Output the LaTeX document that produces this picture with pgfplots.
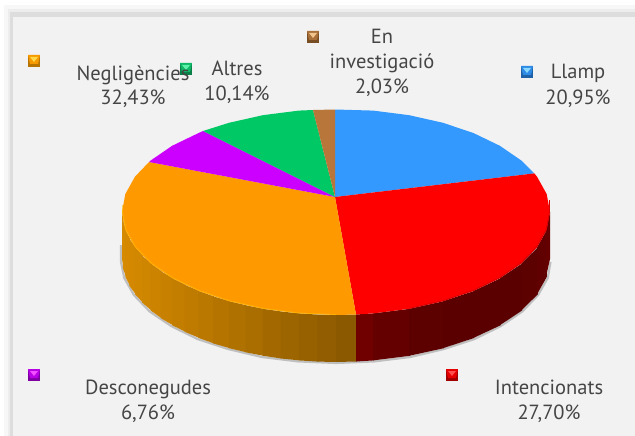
\documentclass[border=0pt]{standalone}
\usepackage{fontspec}
\setmainfont{PT Sans}
\usepackage{pgfplots}
\pgfplotsset{compat=1.18}
\definecolor{bgc}{HTML}{F2F2F2}
\definecolor{band}{HTML}{DDDDDD}
\definecolor{txt}{HTML}{454545}
\definecolor{cBlue}{HTML}{3399FF}
\definecolor{cRed}{HTML}{FF0000}
\definecolor{cOrange}{HTML}{FF9900}
\definecolor{cPurple}{HTML}{CC00FF}
\definecolor{cGreen}{HTML}{00C864}
\definecolor{cBrown}{HTML}{B8763A}
\definecolor{kOb}{HTML}{F79A00}\definecolor{kOd}{HTML}{B87400}\definecolor{kOl}{HTML}{FFD84A}
\definecolor{kGb}{HTML}{0FB866}\definecolor{kGd}{HTML}{0A7F48}\definecolor{kGl}{HTML}{5CF0A8}
\definecolor{kNb}{HTML}{A9703A}\definecolor{kNd}{HTML}{7A4E24}\definecolor{kNl}{HTML}{F0C48C}
\definecolor{kBb}{HTML}{2E8BE6}\definecolor{kBd}{HTML}{1F62A8}\definecolor{kBl}{HTML}{88D8FF}
\definecolor{kPb}{HTML}{B800E6}\definecolor{kPd}{HTML}{7E00A0}\definecolor{kPl}{HTML}{F050FF}
\definecolor{kRb}{HTML}{E60000}\definecolor{kRd}{HTML}{A00000}\definecolor{kRl}{HTML}{FF5050}
% one strip of the pie's side wall: x1,y1,x2,y2,R,G (overlaps the next strip by 0.8)
\newcommand{\wall}[6]{%
  \pgfmathsetmacro{\ya}{#2+47}\pgfmathsetmacro{\yb}{#4+47}\pgfmathsetmacro{\xo}{#3+0.8}%
  \addplot[fill={rgb,255:red,#5;green,#6;blue,0},draw=none]
    coordinates {(#1,#2) (\xo,#4) (\xo,\yb) (#1,\ya)} --cycle;}
% legend key: left, top, base, dark, light
\newcommand{\key}[5]{%
  \pgfmathsetmacro{\xb}{#1+12}\pgfmathsetmacro{\yb}{#2+12}%
  \pgfmathsetmacro{\yc}{#2+9}\pgfmathsetmacro{\xc}{#1+6}\pgfmathsetmacro{\yd}{#2+7}%
  \pgfmathsetmacro{\xe}{#1+2}\pgfmathsetmacro{\xf}{#1+10}\pgfmathsetmacro{\yf}{#2+2}%
  \addplot[fill=#4,draw=none] coordinates {(#1,#2) (\xb,#2) (\xb,\yb) (#1,\yb)} --cycle;
  \addplot[fill=#3,draw=none] coordinates {(#1,#2) (\xb,#2) (\xf,\yc) (\xe,\yc)} --cycle;
  \addplot[fill=#5,draw=none] coordinates {(\xe,\yf) (\xf,\yf) (\xc,\yd)} --cycle;}
\newcommand{\lab}[3]{\node[anchor=base,text=txt,inner sep=0pt,font=\fontsize{20.5}{21}\selectfont] at (axis cs:#1,#2) {#3};}
\begin{document}
\begin{tikzpicture}
\begin{axis}[width=635pt,height=436pt,scale only axis,xmin=0,xmax=635,ymin=0,ymax=436,y dir=reverse,hide axis,clip=true]
% background and frame
\addplot[fill=white,draw=none] coordinates {(0,0) (635,0) (635,436) (0,436)} --cycle;
\addplot[fill=black!3,draw=none] coordinates {(4,5) (635,5) (635,436) (4,436)} --cycle;
\addplot[fill=black!7,draw=none] coordinates {(8,9) (635,9) (635,436) (8,436)} --cycle;
\addplot[fill=band,draw=none] coordinates {(10,12) (635,12) (635,436) (10,436)} --cycle;
\addplot[fill=bgc,draw=none] coordinates {(13,17) (635,17) (635,436) (13,436)} --cycle;
% shadow under the pie
\addplot[draw=black!55,line width=2.2pt,opacity=0.4] coordinates {(550.5,262)(547.7,278)(538.1,295)(522.3,311.5)(500.9,326)(474.6,339)(444,349)(410.2,357)(374.2,361.4)(336,363)(297.8,361.4)(261.8,357)(228,349)(197.4,339)(171.1,326)(149.7,311.5)(133.9,295)(124.3,278)(121,262)(121,245)};
% side wall, orange
\wall{122}{212}{122.8}{221}{214}{138}
\wall{122.8}{221}{125.3}{229.9}{213}{138}
\wall{125.3}{229.9}{129.3}{238.7}{212}{137}
\wall{129.3}{238.7}{134.9}{247.2}{211}{136}
\wall{134.9}{247.2}{142.1}{255.5}{209}{135}
\wall{142.1}{255.5}{150.7}{263.5}{206}{133}
\wall{150.7}{263.5}{160.7}{271.1}{203}{131}
\wall{160.7}{271.1}{172.1}{278.2}{199}{128}
\wall{172.1}{278.2}{184.7}{284.8}{195}{126}
\wall{184.7}{284.8}{198.4}{290.9}{190}{123}
\wall{198.4}{290.9}{213.2}{296.4}{186}{120}
\wall{213.2}{296.4}{229}{301.2}{181}{116}
\wall{229}{301.2}{245.6}{305.3}{175}{113}
\wall{245.6}{305.3}{262.8}{308.8}{169}{109}
\wall{262.8}{308.8}{280.6}{311.5}{163}{105}
\wall{280.6}{311.5}{298.8}{313.4}{157}{101}
\wall{298.8}{313.4}{317.3}{314.6}{151}{97}
\wall{317.3}{314.6}{336}{315}{145}{93}
\wall{336}{315}{356}{314.5}{138}{89}
% side wall, red
\wall{356}{314.5}{373.2}{313.4}{112}{0}
\wall{373.2}{313.4}{409.2}{308.8}{100}{0}
\wall{409.2}{308.8}{443}{301.2}{92}{0}
\wall{443}{301.2}{473.6}{290.9}{90}{0}
\wall{473.6}{290.9}{499.9}{278.2}{90}{0}
\wall{499.9}{278.2}{521.3}{263.5}{90}{0}
\wall{521.3}{263.5}{537.1}{247.2}{92}{0}
\wall{537.1}{247.2}{546}{229.9}{96}{0}
\wall{546}{229.9}{549.2}{212}{100}{0}
% top face
\addplot[fill=cBlue,draw=none] coordinates {(335,197)(335,109.5)(373.2,110.6)(409.2,115.2)(443,122.8)(473.6,133.1)(499.9,145.8)(521.3,160.5)(534.4,173.4)} --cycle;
\addplot[fill=cRed,draw=none] coordinates {(335,197)(534.4,173.4)(537.1,176.8)(546.7,194.1)(550,212)(546.7,229.9)(537.1,247.2)(521.3,263.5)(499.9,278.2)(473.6,290.9)(443,301.2)(409.2,308.8)(373.2,313.4)(356,314.5)} --cycle;
\addplot[fill=cOrange,draw=none] coordinates {(335,197)(356,314.5)(336,315)(298.8,313.4)(262.8,308.8)(229,301.2)(198.4,290.9)(172.1,278.2)(150.7,263.5)(134.9,247.2)(125.3,229.9)(122,212)(125.3,194.1)(134.9,176.8)(149,162)} --cycle;
\addplot[fill=cPurple,draw=none] coordinates {(335,197)(149,162)(150.7,160.5)(172.1,145.8)(198.4,133.1)(203,131)} --cycle;
\addplot[fill=cGreen,draw=none] coordinates {(335,197)(203,131)(229,122.8)(262.8,115.2)(298.8,110.6)(313,110)} --cycle;
\addplot[fill=cBrown,draw=none] coordinates {(335,197)(313,110)(335,109.5)} --cycle;
% rim highlights
\addplot[draw=orange!50!yellow,line width=0.8pt,opacity=0.6] coordinates {(122.5,205)(122.5,212)(125.8,229.5)(135.4,246.7)(151.2,263)(172.6,277.7)(198.9,290.4)(229.3,300.7)(263,308.3)(299,313)(336,314.5)};
\addplot[draw=red!85!black,line width=0.8pt] coordinates {(549.5,200)(549.5,212)(546.2,229.5)(536.6,246.8)(520.8,263.1)(499.4,277.8)(473.1,290.5)(442.7,300.8)(409,308.4)};
% legend keys
\key{28}{55}{kOb}{kOd}{kOl}
\key{180}{63}{kGb}{kGd}{kGl}
\key{307}{31}{kNb}{kNd}{kNl}
\key{521}{66}{kBb}{kBd}{kBl}
\key{28}{369}{kPb}{kPd}{kPl}
\key{446}{369}{kRb}{kRd}{kRl}
% labels
\lab{133}{81}{Negligències}
\lab{133}{105}{32,43\%}
\lab{237}{76}{Altres}
\lab{237}{101}{10,14\%}
\lab{382}{44}{En}
\lab{382}{69}{investigació}
\lab{382}{93}{2,03\%}
\lab{578}{79}{Llamp}
\lab{578}{104}{20,95\%}
\lab{148}{394}{Desconegudes}
\lab{148}{419}{6,76\%}
\lab{549}{394}{Intencionats}
\lab{549}{419}{27,70\%}
\end{axis}
\end{tikzpicture}
\end{document}
